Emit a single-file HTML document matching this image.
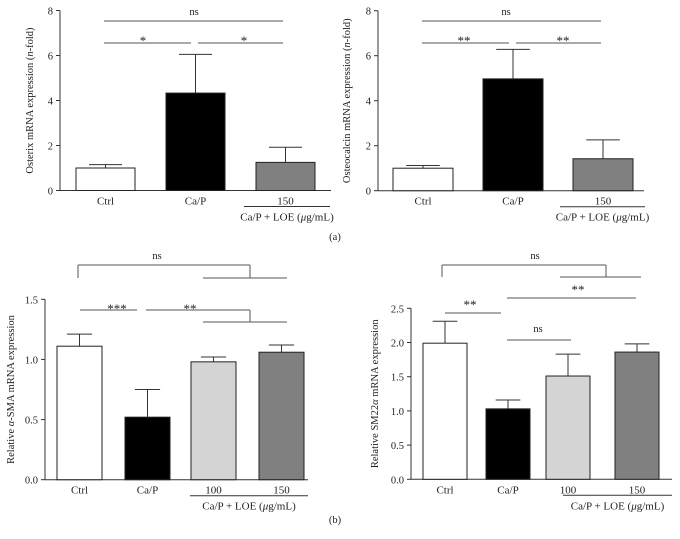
<!DOCTYPE html>
<html><head><meta charset="utf-8"><style>
body{margin:0;background:#fff}
svg{display:block;font-family:"Liberation Serif",serif}
text{fill:#222}
</style></head><body>
<svg id="s" width="680" height="539" viewBox="0 0 680 539"></svg>
<script>
// Panel a-left: Osterix
const oCats=["Ctrl","Ca/P","150"];
const oVals=[1.0,4.33,1.25];
const oErr=[1.15,6.05,1.92];
const oTicks=["0","2","4","6","8"];
// Panel a-right: Osteocalcin
const cCats=["Ctrl","Ca/P","150"];
const cVals=[1.0,4.97,1.42];
const cErr=[1.12,6.28,2.26];
const cTicks=["0","2","4","6","8"];
// Panel b-left: alpha-SMA
const sCats=["Ctrl","Ca/P","100","150"];
const sVals=[1.11,0.52,0.98,1.06];
const sErr=[1.21,0.75,1.02,1.12];
const sTicks=["0.0","0.5","1.0","1.5"];
// Panel b-right: SM22a
const mCats=["Ctrl","Ca/P","100","150"];
const mVals=[1.99,1.03,1.51,1.86];
const mErr=[2.31,1.16,1.83,1.98];
const mTicks=["0.0","0.5","1.0","1.5","2.0","2.5"];

const NS="http://www.w3.org/2000/svg";
const svg=document.getElementById('s');
function el(tag,attrs,parent,txt){const e=document.createElementNS(NS,tag);for(const k in attrs)e.setAttribute(k,attrs[k]);if(txt!==undefined)e.textContent=txt;(parent||svg).appendChild(e);return e;}
function ln(g,x1,y1,x2,y2,c){const l=el('line',{x1,y1,x2,y2,stroke:c||'#333','stroke-width':1},g);return l;}

function panel(name,cfg,cats,vals,errs,ticks){
  const g=el('g',{},svg);
  
  
  const tmax=parseFloat(ticks[ticks.length-1]);
  const y=v=>cfg.y0-(v/tmax)*(cfg.y0-cfg.yTop);
  const ya=ln(g,cfg.ax,cfg.yTop,cfg.ax,cfg.y0);
  
  
  ticks.forEach(t=>{const v=parseFloat(t);ln(g,cfg.ax-4,y(v),cfg.ax,y(v));
    const tx=el('text',{x:cfg.ax-7,y:y(v)+4,'text-anchor':'end','font-size':10.5},g,t);
    
    });
  const xa=ln(g,cfg.ax,cfg.y0,cfg.xEnd,cfg.y0);
  
  
  cats.forEach((c,i)=>{
    const x0=cfg.bx[i],w=cfg.bw,cx=x0+w/2;
    const e=errs[i];
    ln(g,cx,y(vals[i]),cx,y(e));
    ln(g,cx-w*0.28,y(e),cx+w*0.28,y(e));
    const r=el('rect',{x:x0,y:y(vals[i]),width:w,height:cfg.y0-y(vals[i]),fill:cfg.fills[i],stroke:'#222','stroke-width':1},g);
    
    
    const t=el('text',{x:cx,y:cfg.y0+14,'text-anchor':'middle','font-size':11},g,c);
    
    
  });
  ln(g,cfg.ul[0],cfg.y0+16,cfg.ul[1],cfg.y0+16);
  const gl=el('text',{x:(cfg.ul[0]+cfg.ul[1])/2,y:cfg.y0+30,'text-anchor':'middle','font-size':11},g,'Ca/P + LOE (');
  el('tspan',{'font-style':'italic'},gl,'μ');el('tspan',{},gl,'g/mL)');
  
  
  const yl=el('text',{transform:`translate(${cfg.ylx},${(cfg.yTop+cfg.y0)/2}) rotate(-90)`,'text-anchor':'middle','font-size':10.5},g);
  cfg.ylabel.forEach(p=>el('tspan',p[1]?{'font-style':'italic'}:{},yl,p[0]));
  
  
  (cfg.sig||[]).forEach(s=>{
    if(s.l) s.l.forEach(L=>ln(g,L[0],L[1],L[2],L[3],'#555'));
    const isStar=s.t.indexOf('*')>=0;
    const st=el('text',{x:s.tx,y:s.ty+(isStar?3:0),'text-anchor':'middle','font-size':isStar?13:10.5},g,s.t);
    
    
  });
}

panel('osterix-chart',{ax:60,yTop:10.5,y0:190.5,xEnd:331,bx:[76,166,256],bw:59,fills:['#fff','#000','#808080'],ul:[244,330],ylx:33,
  ylabel:[['Osterix mRNA expression ('],['n',1],['-fold)']],
  sig:[{t:'ns',tx:194,ty:15,l:[[104,21,283,21]]},{t:'*',tx:143,ty:42,l:[[104,43,191,43]]},{t:'*',tx:244,ty:42,l:[[198,43,283,43]]}]},oCats,oVals,oErr,oTicks);
panel('osteocalcin-chart',{ax:378,yTop:10.7,y0:190.7,xEnd:644,bx:[393,483,573],bw:60,fills:['#fff','#000','#808080'],ul:[560,645],ylx:350,
  ylabel:[['Osteocalcin mRNA expression ('],['n',1],['-fold)']],
  sig:[{t:'ns',tx:506,ty:15,l:[[422,21,601,21]]},{t:'**',tx:464,ty:42,l:[[422,43,509,43]]},{t:'**',tx:563,ty:42,l:[[516,43,601,43]]}]},cCats,cVals,cErr,cTicks);
panel('alpha-sma-chart',{ax:45,yTop:299.3,y0:479.7,xEnd:308,bx:[57,125,191,259],bw:45,fills:['#fff','#000','#d4d4d4','#808080'],ul:[190,308],ylx:14,
  ylabel:[['Relative '],['α',1],['-SMA mRNA expression']],
  sig:[{t:'ns',tx:157,ty:259,l:[[78,265,250,265],[78,265,78,278],[250,265,250,278],[203,278,287,278]]},
       {t:'***',tx:117,ty:310,l:[[80,310,137,310]]},{t:'**',tx:190,ty:310,l:[[146,310,250,310],[250,310,250,322],[203,322,287,322]]}]},sCats,sVals,sErr,sTicks);
panel('sm22a-chart',{ax:411,yTop:308.3,y0:479.3,xEnd:672,bx:[423,486,546,615],bw:44,fills:['#fff','#000','#d4d4d4','#808080'],ul:[563,672],ylx:378,
  ylabel:[['Relative SM22'],['α',1],[' mRNA expression']],
  sig:[{t:'ns',tx:535,ty:259,l:[[442,265,606,265],[442,265,442,277],[606,265,606,277],[560,277,641,277]]},
       {t:'**',tx:578,ty:291,l:[[507,298,636,298]]},{t:'**',tx:470,ty:306,l:[[445,313,501,313]]},
       {t:'ns',tx:538,ty:332,l:[[507,340,571,340]]}]},mCats,mVals,mErr,mTicks);
const a=el('text',{x:335,y:240,'text-anchor':'middle','font-size':10.5},svg,'(a)');


const b=el('text',{x:335,y:523,'text-anchor':'middle','font-size':10.5},svg,'(b)');


</script>
</body></html>
